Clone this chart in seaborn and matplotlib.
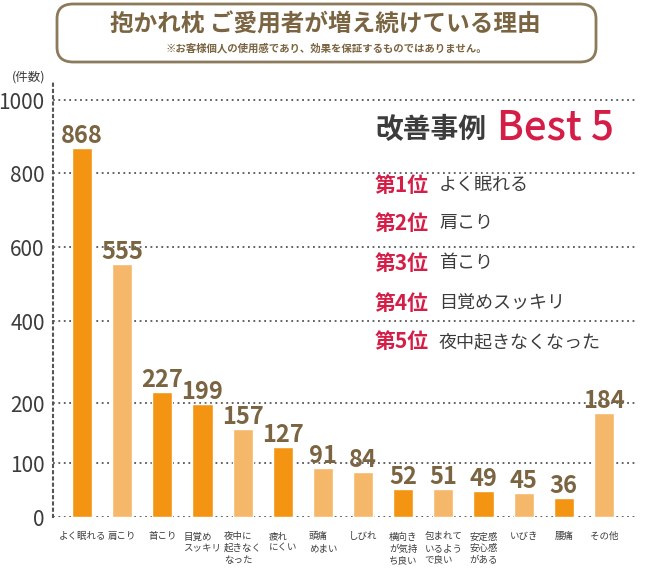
import numpy as np
import pandas as pd
import matplotlib
matplotlib.use("Agg")
import matplotlib.pyplot as plt
import seaborn as sns
from matplotlib.patches import FancyBboxPatch

# data
categories = ['よく眠れる', '肩こり', '首こり', '目覚め\nスッキリ', '夜中に\n起きなく\nなった',
              '疲れ\nにくい', '頭痛\nめまい', 'しびれ', '横向き\nが気持\nち良い',
              '包まれて\nいるよう\nで良い', '安定感\n安心感\nがある', 'いびき', '腰痛', 'その他']
counts = [868, 555, 227, 199, 157, 127, 91, 84, 52, 51, 49, 45, 36, 184]
shade = ['dark', 'light', 'dark', 'dark', 'light', 'dark', 'light', 'light',
         'dark', 'light', 'dark', 'light', 'dark', 'light']
y_ticks = [0, 100, 200, 400, 600, 800, 1000]
best5_rank = ['第1位', '第2位', '第3位', '第4位', '第5位']
best5_item = ['よく眠れる', '肩こり', '首こり', '目覚めスッキリ', '夜中起きなくなった']

DARK = '#F39513'
LIGHT = '#F5B76A'
BROWN = '#7A6441'
RED = '#D41E48'
GRAY = '#3C3C3C'

sns.set_style('white')
plt.rcParams['font.family'] = ['Noto Sans CJK JP', 'DejaVu Sans']

# non-linear axis: tick values placed at the positions of the original
scale_vals = np.array([-1000, 0, 100, 200, 400, 600, 800, 1000, 3000])
scale_pos = np.array([-540, 0, 54, 114, 196, 270, 344, 417, 1147], dtype=float)


def fwd(v):
    return np.interp(v, scale_vals, scale_pos)


def inv(p):
    return np.interp(p, scale_pos, scale_vals)


df = pd.DataFrame({'cat': categories, 'n': counts, 'shade': shade})

fig = plt.figure(figsize=(6.5, 5.85), dpi=100)
W, H = 650, 585
ax = fig.add_axes([53 / W, 1 - 517 / H, (635 - 53) / W, (517 - 83) / H])
ax.set_yscale('function', functions=(fwd, inv))

palette = [DARK if s == 'dark' else LIGHT for s in shade]
sns.barplot(data=df, x='cat', y='n', hue='cat', palette=palette, legend=False,
            width=0.5, saturation=1, ax=ax, zorder=3)

for c in ax.containers:
    ax.bar_label(c, padding=0, fontsize=17, fontweight='bold', color=BROWN)

ax.set_xlim(-0.725, 13.775)
ax.set_ylim(0, 1047)
ax.set_yticks(y_ticks)
ax.set_yticklabels([str(t) for t in y_ticks])
ax.yaxis.grid(True, linestyle=(0, (1, 2)), color='#555555', lw=1.3, zorder=0)
ax.xaxis.grid(False)
ax.set_xlabel('')
ax.set_ylabel('')
ax.tick_params(axis='y', length=0, pad=6, labelsize=15, labelcolor=GRAY)
ax.tick_params(axis='x', length=0, pad=11, labelsize=6.8, labelcolor=GRAY)
for lbl in ax.get_xticklabels():
    lbl.set_multialignment('left')
    lbl.set_linespacing(1.35)
for s in ['top', 'right', 'bottom']:
    ax.spines[s].set_visible(False)
ax.spines['left'].set_linestyle((0, (1, 2)))
ax.spines['left'].set_color('#555555')
ax.spines['left'].set_linewidth(1.5)

# unit label
fig.text(12 / W, 1 - 77 / H, '(件数)', fontsize=9, color=GRAY, va='center')

# title box
box = FancyBboxPatch((57 / W, 1 - 62 / H), (596 - 57) / W, (62 - 4) / H,
                     boxstyle='round,pad=0,rounding_size=0.025',
                     transform=fig.transFigure, fc='white', ec='#8C7A5B', lw=2)
fig.patches.append(box)
fig.text(325 / W, 1 - 25 / H, '抱かれ枕 ご愛用者が増え続けている理由', fontsize=17,
         fontweight='bold', color=BROWN, ha='center', va='center')
fig.text(326 / W, 1 - 48 / H, '※お客様個人の使用感であり、効果を保証するものではありません。',
         fontsize=7.5, fontweight='bold', color=BROWN, ha='center', va='center')

# Best 5 panel
fig.text(375 / W, 1 - 130 / H, '改善事例', fontsize=20, fontweight='bold', color=GRAY,
         va='center')
fig.text(497 / W, 1 - 128 / H, 'Best 5', fontsize=29, fontweight='medium', color=RED,
         va='center')
rank_y = [185, 223, 263, 303, 342]
for yy, r, it in zip(rank_y, best5_rank, best5_item):
    fig.text(375 / W, 1 - yy / H, r, fontsize=15, fontweight='bold', color=RED, va='center')
    fig.text(439 / W, 1 - yy / H, it, fontsize=13, color=GRAY, va='center')

fig.savefig('out.png', dpi=100)
